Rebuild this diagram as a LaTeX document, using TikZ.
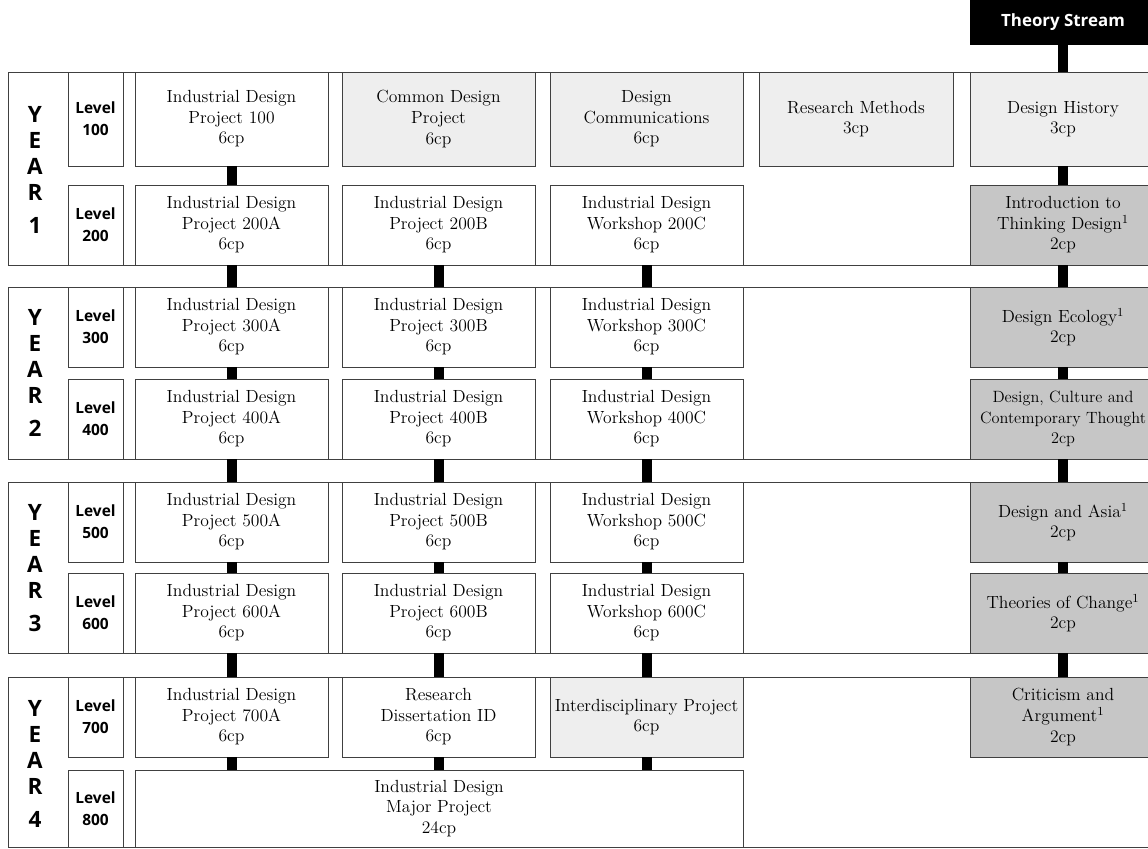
\documentclass[tikz,border=0pt]{standalone}
\usepackage{fontspec}
\newfontfamily\rotulo{Open Sans}

\tikzset{
    banda/.style={draw=black!75, line width=0.6pt},
    curso/.style={draw=black!75, line width=0.6pt, fill=white, inner sep=0pt,
        align=center, minimum width=4.825cm, minimum height=2cm,
        font=\fontsize{12.5}{14.6}\selectfont},
    claro/.style={curso, fill=gray!13},
    teoria/.style={curso, fill=gray!45, minimum width=4.65cm},
    nivel/.style={draw=black!75, line width=0.6pt, fill=white, inner sep=0pt,
        align=center, minimum width=1.375cm, minimum height=2cm,
        font=\rotulo\bfseries\fontsize{11}{15.5}\selectfont},
    anio/.style={align=center, inner sep=0pt,
        font=\rotulo\bfseries\fontsize{16}{18.5}\selectfont},
    barra/.style={line width=0.25cm, black},
}

\begin{document}
\begin{tikzpicture}[x=0.025cm, y=-0.025cm]

\useasboundingbox (0,0) rectangle (1148,848);
\clip (0,0) rectangle (1148,848);

% ================================================================
%  Bandas de año (1 px = 0.025 cm, eje y hacia abajo)
% ================================================================
\draw[banda] (8, 72) rectangle (1160, 265);
\draw[banda] (8,287) rectangle (1160, 459);
\draw[banda] (8,482) rectangle (1160, 653);
\draw[banda] (8,677) rectangle (1160, 847);

\node[anio] (y1) at (35,170) {Y\\E\\A\\R\\[5pt]1};
\node[anio] (y2) at (35,373) {Y\\E\\A\\R\\[5pt]2};
\node[anio] (y3) at (35,568) {Y\\E\\A\\R\\[5pt]3};
\node[anio] (y4) at (35,764) {Y\\E\\A\\R\\[5pt]4};

% Niveles
\node[nivel, minimum height=2.35cm] (n100) at (95.5,119) {Level\\100};
\node[nivel] (n200) at (95.5,225) {Level\\200};
\node[nivel] (n300) at (95.5,327) {Level\\300};
\node[nivel] (n400) at (95.5,419) {Level\\400};
\node[nivel] (n500) at (95.5,522) {Level\\500};
\node[nivel] (n600) at (95.5,613) {Level\\600};
\node[nivel] (n700) at (95.5,717) {Level\\700};
\node[nivel, minimum height=1.925cm] (n800) at (95.5,808.5) {Level\\800};

% ================================================================
%  Fila 100
% ================================================================
\node[curso, minimum height=2.35cm] (p100) at (231.5,119)
    {Industrial Design\\Project 100\\6cp};
\node[claro, minimum height=2.35cm] (cdp) at (438.5,119)
    {Common Design\\Project\\6cp};
\node[claro, minimum height=2.35cm] (dcom) at (646.5,119)
    {Design\\Communications\\6cp};
\node[claro, minimum height=2.35cm, minimum width=4.85cm] (rmet) at (856,119)
    {Research Methods\\3cp};
\node[claro, minimum height=2.35cm, minimum width=4.65cm] (hist) at (1063,119)
    {Design History\\3cp};

% Filas 200 a 600
\node[curso] (p200A) at (231.5,225) {Industrial Design\\Project 200A\\6cp};
\node[curso] (p200B) at (438.5,225) {Industrial Design\\Project 200B\\6cp};
\node[curso] (w200C) at (646.5,225) {Industrial Design\\Workshop 200C\\6cp};
\node[teoria] (intro) at (1063,225) {Introduction to\\Thinking Design\textsuperscript{1}\\2cp};

\node[curso] (p300A) at (231.5,327) {Industrial Design\\Project 300A\\6cp};
\node[curso] (p300B) at (438.5,327) {Industrial Design\\Project 300B\\6cp};
\node[curso] (w300C) at (646.5,327) {Industrial Design\\Workshop 300C\\6cp};
\node[teoria] (eco) at (1063,327) {Design Ecology\textsuperscript{1}\\2cp};

\node[curso] (p400A) at (231.5,419) {Industrial Design\\Project 400A\\6cp};
\node[curso] (p400B) at (438.5,419) {Industrial Design\\Project 400B\\6cp};
\node[curso] (w400C) at (646.5,419) {Industrial Design\\Workshop 400C\\6cp};
\node[teoria, font=\fontsize{11.6}{14.6}\selectfont] (cult) at (1063,419)
    {Design, Culture and\\Contemporary Thought\\2cp};

\node[curso] (p500A) at (231.5,522) {Industrial Design\\Project 500A\\6cp};
\node[curso] (p500B) at (438.5,522) {Industrial Design\\Project 500B\\6cp};
\node[curso] (w500C) at (646.5,522) {Industrial Design\\Workshop 500C\\6cp};
\node[teoria] (asia) at (1063,522) {Design and Asia\textsuperscript{1}\\2cp};

\node[curso] (p600A) at (231.5,613) {Industrial Design\\Project 600A\\6cp};
\node[curso] (p600B) at (438.5,613) {Industrial Design\\Project 600B\\6cp};
\node[curso] (w600C) at (646.5,613) {Industrial Design\\Workshop 600C\\6cp};
\node[teoria] (camb) at (1063,613) {Theories of Change\textsuperscript{1}\\2cp};

% Filas 700 y 800
\node[curso] (p700A) at (231.5,717) {Industrial Design\\Project 700A\\6cp};
\node[curso] (dis) at (438.5,717) {Research\\Dissertation ID\\6cp};
\node[claro] (inter) at (646.5,717) {Interdisciplinary Project\\6cp};
\node[teoria] (crit) at (1063,717) {Criticism and\\Argument\textsuperscript{1}\\2cp};

\node[curso, minimum width=15.2cm, minimum height=1.925cm] (mayor) at (439,808.5)
    {Industrial Design\\Major Project\\24cp};

% Cabecera de la columna teórica
\node[fill=black, text=white, minimum width=4.65cm, minimum height=1.125cm,
      font=\rotulo\bfseries\fontsize{12}{14}\selectfont] (ts) at (1063,22.5)
    {Theory Stream};

% ================================================================
%  Barras de conexión
% ================================================================
\foreach \a/\b in {p100/p200A, p200A/p300A, p300A/p400A, p400A/p500A,
                   p500A/p600A, p600A/p700A,
                   p200B/p300B, p300B/p400B, p400B/p500B, p500B/p600B, p600B/dis,
                   w200C/w300C, w300C/w400C, w400C/w500C, w500C/w600C, w600C/inter,
                   ts/hist, hist/intro, intro/eco, eco/cult, cult/asia,
                   asia/camb, camb/crit}{
    \draw[barra] (\a.south) -- (\b.north);
}
\foreach \a in {p700A, dis, inter}{
    \draw[barra] (\a.south) -- (\a.south |- mayor.north);
}

\end{tikzpicture}
\end{document}
